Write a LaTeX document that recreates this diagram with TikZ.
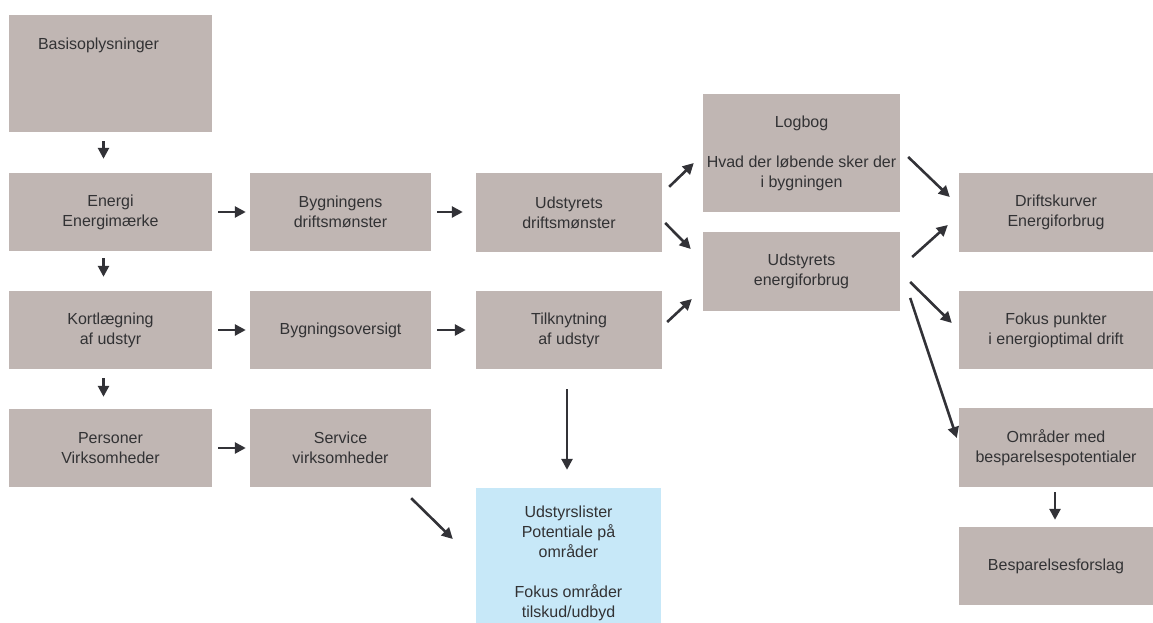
\documentclass[tikz,border=0pt]{standalone}
\usepackage{fontspec}
\setmainfont{Liberation Sans}
\usetikzlibrary{arrows.meta,calc}
\definecolor{boxgrey}{RGB}{192,182,179}
\definecolor{boxblue}{RGB}{199,232,248}
\definecolor{inkgrey}{RGB}{50,50,52}
\definecolor{arrowgrey}{RGB}{50,50,55}
\begin{document}
\begin{tikzpicture}[x=1pt,y=-1pt,
  every node/.style={font=\fontsize{16}{20}\selectfont, text=inkgrey},
  box/.style={fill=boxgrey, draw=none, inner sep=0pt, align=center},
  bluebox/.style={fill=boxblue, draw=none, inner sep=0pt},
  wide/.style={minimum width=203pt},
  mid/.style={minimum width=181pt},
  flow/.style={line width=2.6pt, draw=arrowgrey, -{Triangle[length=11pt,width=11pt]}}
]
\useasboundingbox (0,0) rectangle (1153,623);
\clip (0,0) rectangle (1153,623);

% left column
\node[box, wide, minimum height=117pt,
  label={[anchor=north west, xshift=29pt, yshift=-23pt, inner sep=0pt, font=\fontsize{16}{20}\selectfont, text=inkgrey]north west:Basisoplysninger}]
  (basis) at (110.5,73.5) {};
\node[box, wide, minimum height=78pt] (energi) at (110.5,212) {Energi\\Energimærke};
\node[box, wide, minimum height=78pt] (kort) at (110.5,330) {Kortlægning\\af udstyr};
\node[box, wide, minimum height=78pt] (pers) at (110.5,448) {Personer\\Virksomheder};

% second column
\node[box, mid, minimum height=78pt] (bygn) at (340.5,212) {Bygningens\\driftsmønster};
\node[box, mid, minimum height=78pt] (bover) at (340.5,330) {Bygningsoversigt};
\node[box, mid, minimum height=78pt] (serv) at (340.5,448) {Service\\virksomheder};

% third column
\node[box, minimum width=186pt, minimum height=79pt] (udrift) at (569,212.5) {Udstyrets\\driftsmønster};
\node[box, minimum width=186pt, minimum height=78pt] (tilk) at (569,330) {Tilknytning\\af udstyr};
\node[bluebox, minimum width=185pt, minimum height=135pt] (blue) at (568.5,555.5) {};
\node[anchor=north, align=center, inner sep=0pt] (bluetext) at (568.5,506)
  {Udstyrslister\\Potentiale på\\områder\\[20pt]Fokus områder\\tilskud/udbyd};

% fourth column
\node[box, minimum width=197pt, minimum height=118pt] (logbog) at (801.5,153)
  {Logbog\\[20pt]Hvad der løbende sker der\\i bygningen};
\node[box, minimum width=197pt, minimum height=79pt] (uenergi) at (801.5,271.5) {Udstyrets\\energiforbrug};

% right column
\node[box, minimum width=194pt, minimum height=79pt] (drifts) at (1056,212.5) {Driftskurver\\Energiforbrug};
\node[box, minimum width=194pt, minimum height=78pt] (fokus) at (1056,330) {Fokus punkter\\i energioptimal drift};
\node[box, minimum width=194pt, minimum height=79pt] (omr) at (1056,447.5) {Områder med\\besparelsespotentialer};
\node[box, minimum width=194pt, minimum height=78pt] (besp) at (1056,566) {Besparelsesforslag};

% vertical arrows, left column
\draw[flow] ($(basis.south)+(-7,9)$) -- ($(energi.north)+(-7,-14)$);
\draw[flow] ($(energi.south)+(-7,7)$) -- ($(kort.north)+(-7,-14)$);
\draw[flow] ($(kort.south)+(-7,9)$) -- ($(pers.north)+(-7,-12)$);

% horizontal arrows
\draw[flow] ($(energi.east)+(6,0)$) -- ($(bygn.west)+(-4,0)$);
\draw[flow] ($(bygn.east)+(6,0)$) -- ($(udrift.west)+(-13,-0.5)$);
\draw[flow] ($(kort.east)+(6,0)$) -- ($(bover.west)+(-4,0)$);
\draw[flow] ($(bover.east)+(6,0)$) -- ($(tilk.west)+(-10,0)$);
\draw[flow] ($(pers.east)+(6,0)$) -- ($(serv.west)+(-4,0)$);

% diagonal arrows in the middle
\draw[flow] ($(udrift.north east)+(7,14)$) -- ($(logbog.west)+(-9,10)$);
\draw[flow] ($(udrift.east)+(3,10.5)$) -- ($(uenergi.west)+(-12,-22.5)$);
\draw[flow] ($(tilk.east)+(5,-8)$) -- ($(uenergi.west)+(-11,27.5)$);

% arrows towards the right column
\draw[flow] ($(logbog.east)+(8,4)$) -- ($(drifts.west)+(-9,-15.5)$);
\draw[flow] ($(uenergi.east)+(12,-14.5)$) -- ($(drifts.west)+(-11,12.5)$);
\draw[flow] ($(uenergi.east)+(10,10.5)$) -- ($(fokus.west)+(-7,-7)$);
\draw[flow] ($(uenergi.east)+(10,26.5)$) -- ($(omr.west)+(-2,-9.5)$);
\draw[flow] ($(omr.south)+(-1,5)$) -- ($(besp.north)+(-1,-7)$);

% arrows into the list box
\draw[flow] ($(tilk.south)+(-2,20)$) -- ($(blue.north)+(-1.5,-18)$);
\draw[flow] ($(serv.south east)+(-20,11)$) -- ($(blue.west)+(-23,-16.5)$);
\end{tikzpicture}
\end{document}
